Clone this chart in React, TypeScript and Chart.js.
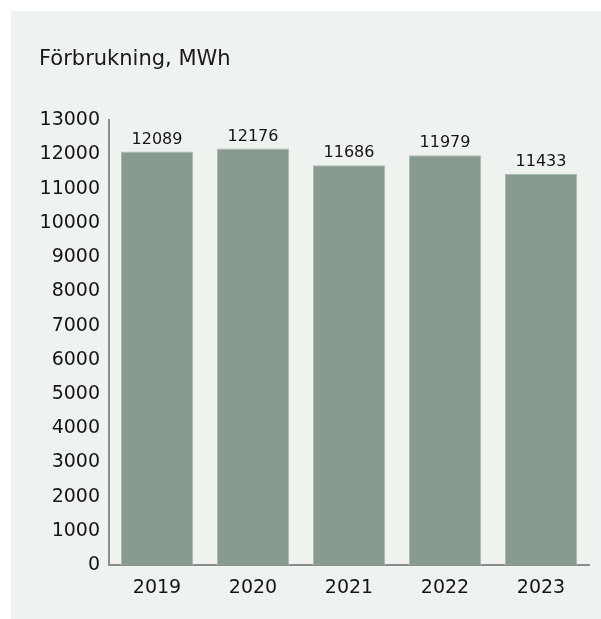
import React, { useEffect, useRef } from "react";
import { Chart, registerables } from "chart.js";

Chart.register(...registerables);

const categories = ["2019", "2020", "2021", "2022", "2023"];
const consumption = [12089, 12176, 11686, 11979, 11433];
const titleText = "Förbrukning, MWh";
const yMax = 13000;
const yStep = 1000;

const FONT = "'DejaVu Sans', sans-serif";

const valueLabels = {
  id: "valueLabels",
  afterDatasetsDraw(chart: any) {
    const ctx = chart.ctx;
    const meta = chart.getDatasetMeta(0);
    ctx.save();
    ctx.font = `16px ${FONT}`;
    ctx.fillStyle = "#151515";
    ctx.textAlign = "center";
    ctx.textBaseline = "bottom";
    meta.data.forEach((bar: any, i: number) => {
      ctx.fillText(String(chart.data.datasets[0].data[i]), bar.x, bar.y - 4);
    });
    ctx.restore();
  },
};

export default function App() {
  const ref = useRef<HTMLCanvasElement | null>(null);
  useEffect(() => {
    if (!ref.current) return;
    const chart = new Chart(ref.current, {
      type: "bar",
      data: {
        labels: categories,
        datasets: [
          {
            data: consumption,
            backgroundColor: "#879a8f",
            borderColor: "#a9b9ae",
            borderWidth: 1,
            barPercentage: 0.75,
            categoryPercentage: 1,
          },
        ],
      },
      options: {
        animation: false,
        responsive: false,
        maintainAspectRatio: false,
        layout: { padding: { left: 28, right: 12, top: 0, bottom: 9 } },
        plugins: {
          legend: { display: false },
          tooltip: { enabled: false },
          title: {
            display: true,
            text: titleText,
            align: "start",
            color: "#1a1a1a",
            font: { family: FONT, size: 21, weight: "normal" },
            padding: { top: 36, bottom: 48 },
          },
        },
        scales: {
          x: {
            grid: { display: false, drawTicks: false },
            border: { display: true, color: "#8c8c8c", width: 2 },
            ticks: {
              color: "#151515",
              font: { family: FONT, size: 19 },
              padding: 11,
            },
          },
          y: {
            min: 0,
            max: yMax,
            grid: { display: false, drawTicks: false },
            border: { display: true, color: "#8c8c8c", width: 2 },
            ticks: {
              stepSize: yStep,
              color: "#151515",
              font: { family: FONT, size: 19 },
              padding: 9,
              callback: (v: any) => String(v),
            },
            afterFit(scale: any) {
              scale.width = 70;
            },
          },
        },
      },
      plugins: [valueLabels],
    });
    return () => chart.destroy();
  }, []);

  return (
    <div
      style={{
        position: "absolute",
        left: 11,
        top: 11,
        width: 590,
        height: 608,
        background: "#eef3f0",
      }}
    >
      <canvas ref={ref} width={590} height={608} style={{ display: "block" }} />
    </div>
  );
}
